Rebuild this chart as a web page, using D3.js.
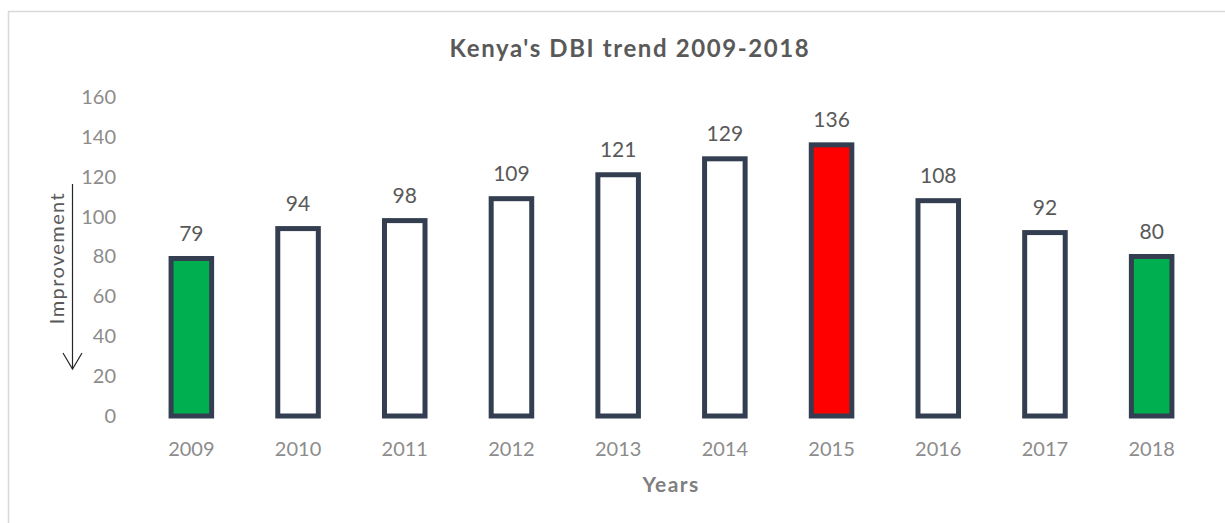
<!DOCTYPE html>
<html>
<head>
<meta charset="utf-8">
<script src="https://cdn.jsdelivr.net/npm/d3@7"></script>
<style>
  body { margin: 0; background: #fff; }
  text { font-family: Lato, "Open Sans", sans-serif; }
</style>
</head>
<body>
<div id="canvas"></div>
<script>
"use strict"

// chart data
let years = ["2009", "2010", "2011", "2012", "2013", "2014", "2015", "2016", "2017", "2018"];
let dbi = [79, 94, 98, 109, 121, 129, 136, 108, 92, 80];
let barFills = ["#00B050", "#fff", "#fff", "#fff", "#fff", "#fff", "#FF0000", "#fff", "#fff", "#00B050"];
let yTicks = [0, 20, 40, 60, 80, 100, 120, 140, 160];

let drawing = d3.select("#canvas")
    .append("svg")
    .attr("width", 1225)
    .attr("height", 523);

// outer chart frame (only top and left edges show)
drawing.append("path")
    .attr("d", "M8.5,523 V11.5 H1225")
    .attr("fill", "none")
    .attr("stroke", "#d9d9d9")
    .attr("stroke-width", 1.5);

let x = d3.scaleBand()
    .domain(years)
    .range([138, 1205])
    .paddingInner(0.62)
    .paddingOuter(0.31);

let y = d3.scaleLinear()
    .domain([0, 160])
    .range([416, 97]);

// title
drawing.append("text")
    .attr("x", 630)
    .attr("y", 57)
    .attr("text-anchor", "middle")
    .attr("font-size", 24)
    .attr("font-weight", "bold")
    .attr("letter-spacing", 1.6)
    .attr("fill", "#595959")
    .text("Kenya's DBI trend 2009-2018");

// y axis labels (no line)
let yAxis = drawing.append("g")
    .attr("transform", "translate(116,0)")
    .call(d3.axisLeft(y).tickValues(yTicks).tickSize(0).tickPadding(0));
yAxis.select(".domain").remove();
yAxis.selectAll("text")
    .attr("font-family", "Lato, 'Open Sans', sans-serif")
    .attr("font-size", 20)
    .attr("fill", "#8c8c8c");

// x axis labels
let xAxis = drawing.append("g")
    .attr("transform", "translate(0,456)")
    .call(d3.axisBottom(x).tickSize(0).tickPadding(0));
xAxis.select(".domain").remove();
xAxis.selectAll("text")
    .attr("y", 0)
    .attr("dy", 0)
    .attr("font-family", "Lato, 'Open Sans', sans-serif")
    .attr("font-size", 20)
    .attr("fill", "#8c8c8c");

// bars
drawing.selectAll(".bar")
    .data(dbi)
    .enter()
    .append("rect")
    .attr("class", "bar")
    .attr("x", (d, i) => x(years[i]))
    .attr("y", d => y(d))
    .attr("width", x.bandwidth())
    .attr("height", d => y(0) - y(d))
    .attr("fill", (d, i) => barFills[i])
    .attr("stroke", "#333F50")
    .attr("stroke-width", 5);

// value labels
drawing.selectAll(".val")
    .data(dbi)
    .enter()
    .append("text")
    .attr("class", "val")
    .attr("x", (d, i) => x(years[i]) + x.bandwidth() / 2)
    .attr("y", d => y(d) - 17.5)
    .attr("text-anchor", "middle")
    .attr("font-size", 21)
    .attr("fill", "#595959")
    .text(d => d);

// axis titles
drawing.append("text")
    .attr("x", 671)
    .attr("y", 492)
    .attr("text-anchor", "middle")
    .attr("font-size", 21)
    .attr("font-weight", "bold")
    .attr("letter-spacing", 1.4)
    .attr("fill", "#7f7f7f")
    .text("Years");

drawing.append("text")
    .attr("transform", "translate(64,258) rotate(-90)")
    .attr("text-anchor", "middle")
    .attr("font-size", 20)
    .attr("letter-spacing", 1.4)
    .attr("fill", "#595959")
    .text("Improvement");

// downward arrow beside the y title
drawing.append("line")
    .attr("x1", 72.5)
    .attr("y1", 184)
    .attr("x2", 72.5)
    .attr("y2", 369)
    .attr("stroke", "#262626")
    .attr("stroke-width", 1.2);
drawing.append("path")
    .attr("d", "M63,353 L72.5,369 L82,353")
    .attr("fill", "none")
    .attr("stroke", "#262626")
    .attr("stroke-width", 1.2);
</script>
</body>
</html>
